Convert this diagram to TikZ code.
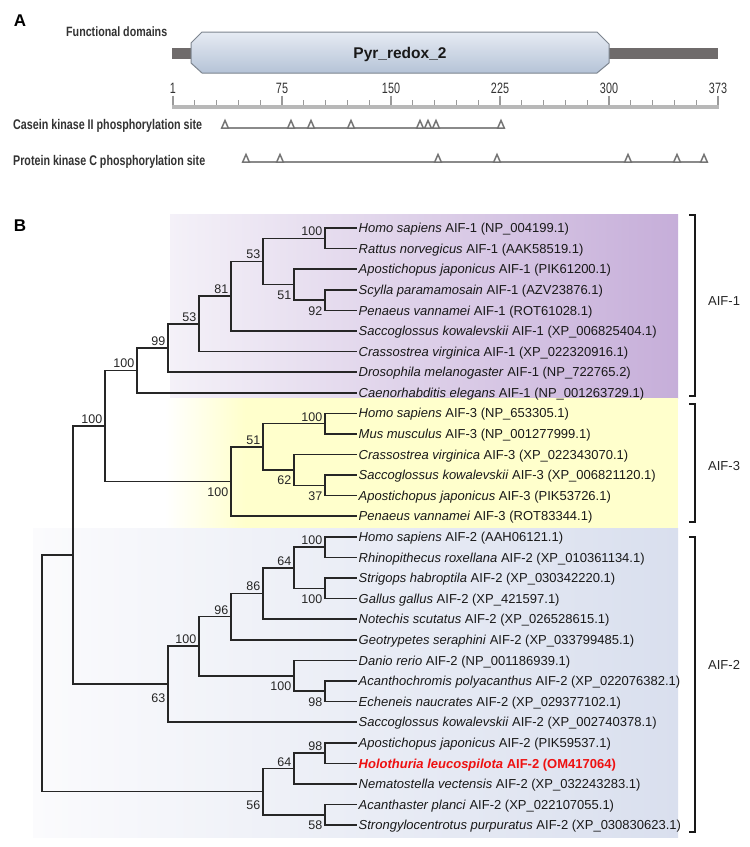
\documentclass[tikz,border=0pt]{standalone}
\usepackage{fontspec}
\setmainfont{Liberation Sans}
\usepackage{graphicx}
\usetikzlibrary{calc}
\definecolor{barcol}{HTML}{6F6B6B}
\definecolor{hexedge}{HTML}{7D858F}
\definecolor{hextop}{HTML}{E6EBF3}
\definecolor{hexbot}{HTML}{B5C3D7}
\definecolor{tickcol}{HTML}{9A9A9A}
\definecolor{rulecol}{HTML}{B8B8B8}
\definecolor{sitecol}{HTML}{8A8A8A}
\definecolor{txtA}{HTML}{333333}
\definecolor{treecol}{HTML}{262626}
\definecolor{purpL}{HTML}{F4F1F8}
\definecolor{purpR}{HTML}{C6AED9}
\definecolor{yelR}{HTML}{FFFFCC}
\definecolor{bluL}{HTML}{FBFBFD}
\definecolor{bluR}{HTML}{D9DFEE}
\definecolor{hlred}{HTML}{EE1111}
\newcommand\fsz[1]{\fontsize{#1}{#1}\selectfont}
\begin{document}
\begin{tikzpicture}[x=1bp,y=-1bp,
  br/.style={draw=treecol, line width=1.6bp},
  leaf/.style={anchor=west, inner xsep=1.5bp, inner ysep=0pt, text height=9.3bp, text depth=0pt, font=\fsz{13bp}, text=black!90},
  bsa/.style={anchor=base east, inner sep=0pt, font=\fsz{12.5bp}, text=black!85, xshift=-2.5bp, yshift=2.5bp},
  bsb/.style={anchor=base east, inner sep=0pt, font=\fsz{12.5bp}, text=black!85, xshift=-2.5bp, yshift=-15bp},
  tri/.style={draw=sitecol!85!black, line width=1.5bp, fill=white, line join=miter},
  siteline/.style={draw=sitecol, line width=1.6bp},
  tick/.style={draw=tickcol, line width=1.2bp},
  brk/.style={draw=black!90, line width=1.4bp},
  clade/.style={anchor=west, inner sep=0pt, font=\fsz{13bp}, text=black!85},
  panel/.style={inner sep=0pt, font=\bfseries\fsz{17bp}},
  rnum/.style={anchor=base, inner sep=0pt, font=\fsz{15bp}, text=txtA}
]
\useasboundingbox (0,0) rectangle (750,847);
\fill[white] (0,0) rectangle (750,847);

%% ---------------- Panel A ----------------
\node[panel] (pA) at (20,21) {A};
\node[anchor=base west, inner sep=0pt, font=\bfseries\fsz{13.5bp}, text=txtA] (fd) at (66,36) {\resizebox{101bp}{\height}{Functional domains}};

\fill[barcol] (172,47.5) rectangle (718,59);
\draw[draw=hexedge, line width=1bp, top color=hextop, bottom color=hexbot]
  (191,43)--(202,32)--(597,32)--(609,44)--(609,63)--(597,73)--(202,73)--(191,63)--cycle;
\node[anchor=base, inner sep=0pt, font=\bfseries\fsz{15.5bp}, text=black!90] (pyr) at (400,58.5) {Pyr\_redox\_2};

% ruler
\fill[rulecol] (172,104.5) rectangle (719,108.5);
\foreach \k in {0,...,25}{
  \pgfmathtruncatemacro\m{mod(\k,5)}
  \pgfmathsetmacro\xx{173+21.8*\k}
  \ifnum\m=0 \draw[tick] (\xx,95.5)--(\xx,105); \else \draw[tick] (\xx,100)--(\xx,105); \fi
}
\foreach \k/\lab in {0/1,1/75,2/150,3/225,4/300,5/373}{
  \node[rnum] (r\k) at (173+109*\k,93.3) {\scalebox{0.72}[1]{\lab}};
}

% phosphorylation sites
\node[anchor=base west, inner sep=0pt, font=\bfseries\fsz{14bp}, text=txtA] (ck) at (13,129.3) {\resizebox{189bp}{\height}{Casein kinase II phosphorylation site}};
\node[anchor=base west, inner sep=0pt, font=\bfseries\fsz{14bp}, text=txtA] (pk) at (13,165) {\resizebox{192bp}{\height}{Protein kinase C phosphorylation site}};

\coordinate (cks) at (221,128); \coordinate (cke) at (505,128);
\draw[siteline] (cks) -- (cke);
\foreach \x in {225,291,311,351,420,428,436,501}
  \draw[tri] (\x-3.3,128) -- (\x,120.5) -- (\x+3.3,128) -- cycle;

\coordinate (pks) at (243,162); \coordinate (pke) at (707,162);
\draw[siteline] (pks) -- (pke);
\foreach \x in {246,280,438,497,628,677,704}
  \draw[tri] (\x-3.3,162) -- (\x,154.5) -- (\x+3.3,162) -- cycle;

%% ---------------- Panel B ----------------
\node[panel] (pB) at (20,226) {B};

% backgrounds
\shade[left color=purpL, right color=purpR] (170,214) rectangle (678,398);
\fill[yelR] (244,398) rectangle (678,528.5);
\shade[left color=white, right color=yelR] (165,398) rectangle (245,528.5);
\shade[left color=bluL, right color=bluR] (33,528) rectangle (678,837);

% leaves
\foreach \i/\sp/\acc in {
 0/{Homo sapiens}/{AIF-1 (NP\_004199.1)},
 1/{Rattus norvegicus}/{AIF-1 (AAK58519.1)},
 2/{Apostichopus japonicus}/{AIF-1 (PIK61200.1)},
 3/{Scylla paramamosain}/{AIF-1 (AZV23876.1)},
 4/{Penaeus vannamei}/{AIF-1 (ROT61028.1)},
 5/{Saccoglossus kowalevskii}/{AIF-1 (XP\_006825404.1)},
 6/{Crassostrea virginica}/{AIF-1 (XP\_022320916.1)},
 7/{Drosophila melanogaster}/{AIF-1 (NP\_722765.2)},
 8/{Caenorhabditis elegans}/{AIF-1 (NP\_001263729.1)},
 9/{Homo sapiens}/{AIF-3 (NP\_653305.1)},
 10/{Mus musculus}/{AIF-3 (NP\_001277999.1)},
 11/{Crassostrea virginica}/{AIF-3 (XP\_022343070.1)},
 12/{Saccoglossus kowalevskii}/{AIF-3 (XP\_006821120.1)},
 13/{Apostichopus japonicus}/{AIF-3 (PIK53726.1)},
 14/{Penaeus vannamei}/{AIF-3 (ROT83344.1)},
 15/{Homo sapiens}/{AIF-2 (AAH06121.1)},
 16/{Rhinopithecus roxellana}/{AIF-2 (XP\_010361134.1)},
 17/{Strigops habroptila}/{AIF-2 (XP\_030342220.1)},
 18/{Gallus gallus}/{AIF-2 (XP\_421597.1)},
 19/{Notechis scutatus}/{AIF-2 (XP\_026528615.1)},
 20/{Geotrypetes seraphini}/{AIF-2 (XP\_033799485.1)},
 21/{Danio rerio}/{AIF-2 (NP\_001186939.1)},
 22/{Acanthochromis polyacanthus}/{AIF-2 (XP\_022076382.1)},
 23/{Echeneis naucrates}/{AIF-2 (XP\_029377102.1)},
 24/{Saccoglossus kowalevskii}/{AIF-2 (XP\_002740378.1)},
 25/{Apostichopus japonicus}/{AIF-2 (PIK59537.1)},
 27/{Nematostella vectensis}/{AIF-2 (XP\_032243283.1)},
 28/{Acanthaster planci}/{AIF-2 (XP\_022107055.1)},
 29/{Strongylocentrotus purpuratus}/{AIF-2 (XP\_030830623.1)}}{
  \pgfmathsetmacro\yy{228+20.59*\i}
  \node[leaf] (t\i) at (357,\yy) {\textit{\sp} \acc};
}
\node[leaf, text=hlred, font=\bfseries\fsz{13bp}] (t26) at (357,763.34) {\textit{Holothuria leucospilota} AIF-2 (OM417064)};

% internal nodes
\coordinate (na) at (325,238.30);
\coordinate (ne) at (325,300.07);
\coordinate (nd) at (294,284.62);
\coordinate (nb) at (263,261.46);
\coordinate (nf) at (231,296.20);
\coordinate (ng) at (199,323.87);
\coordinate (nh) at (168,348.00);
\coordinate (ni) at (137,370.36);
\coordinate (ma) at (325,423.61);
\coordinate (mc) at (325,485.38);
\coordinate (mb) at (294,469.93);
\coordinate (md) at (263,446.77);
\coordinate (me) at (231,481.52);
\coordinate (j)  at (105,425.94);
\coordinate (va) at (325,547.15);
\coordinate (vb) at (325,588.33);
\coordinate (vc) at (294,567.74);
\coordinate (vd) at (263,593.48);
\coordinate (ve) at (231,616.64);
\coordinate (vf) at (325,691.28);
\coordinate (vg) at (294,675.84);
\coordinate (vh) at (199,646.24);
\coordinate (vi) at (168,684.20);
\coordinate (k)  at (73,555.07);
\coordinate (ea) at (325,753.05);
\coordinate (eb) at (294,768.49);
\coordinate (ec) at (325,814.82);
\coordinate (ed) at (263,791.66);
\coordinate (root) at (42,673.37);

\foreach \p/\c in {na/t0.west, na/t1.west, ne/t3.west, ne/t4.west, nd/t2.west, nd/ne,
  nb/na, nb/nd, nf/nb, nf/t5.west, ng/nf, ng/t6.west, nh/ng, nh/t7.west, ni/nh, ni/t8.west,
  ma/t9.west, ma/t10.west, mc/t12.west, mc/t13.west, mb/t11.west, mb/mc, md/ma, md/mb,
  me/md, me/t14.west, j/ni, j/me,
  va/t15.west, va/t16.west, vb/t17.west, vb/t18.west, vc/va, vc/vb, vd/vc, vd/t19.west,
  ve/vd, ve/t20.west, vf/t22.west, vf/t23.west, vg/t21.west, vg/vf, vh/ve, vh/vg,
  vi/vh, vi/t24.west, k/j, k/vi,
  ea/t25.west, ea/t26.west, eb/ea, eb/t27.west, ec/t28.west, ec/t29.west, ed/eb, ed/ec,
  root/k, root/ed}
  \draw[br] (\p) |- (\c);

% bootstrap values
\node[bsa] (b1) at (na) {100};
\node[bsa] (b2) at (nb) {53};
\node[bsb] (b3) at (nd) {51};
\node[bsb] (b4) at (ne) {92};
\node[bsa] (b5) at (nf) {81};
\node[bsa] (b6) at (ng) {53};
\node[bsa] (b7) at (nh) {99};
\node[bsa] (b8) at (ni) {100};
\node[bsa] (b9) at (j) {100};
\node[bsa] (b10) at (ma) {100};
\node[bsa] (b11) at (md) {51};
\node[bsb] (b12) at (mb) {62};
\node[bsb] (b13) at (mc) {37};
\node[bsb] (b14) at (me) {100};
\node[bsa] (b15) at (va) {100};
\node[bsa] (b16) at (vc) {64};
\node[bsb] (b17) at (vb) {100};
\node[bsa] (b18) at (vd) {86};
\node[bsa] (b19) at (ve) {96};
\node[bsa] (b20) at (vh) {100};
\node[bsb] (b21) at (vg) {100};
\node[bsb] (b22) at (vf) {98};
\node[bsb, yshift=-3bp] (b23) at (vi) {63};
\node[bsa] (b24) at (ea) {98};
\node[bsa] (b25) at (eb) {64};
\node[bsb] (b26) at (ec) {58};
\node[bsb, yshift=-3bp] (b27) at (ed) {56};

% clade brackets
\draw[brk] (689,215) -- (695,215) -- (695,396) -- (689,396);
\draw[brk] (689,404) -- (695,404) -- (695,522) -- (689,522);
\draw[brk] (689,537) -- (695,537) -- (695,832) -- (689,832);
\node[clade] (c1) at (708,301) {AIF-1};
\node[clade] (c3) at (708,466) {AIF-3};
\node[clade] (c2) at (708,665) {AIF-2};
\end{tikzpicture}
\end{document}
